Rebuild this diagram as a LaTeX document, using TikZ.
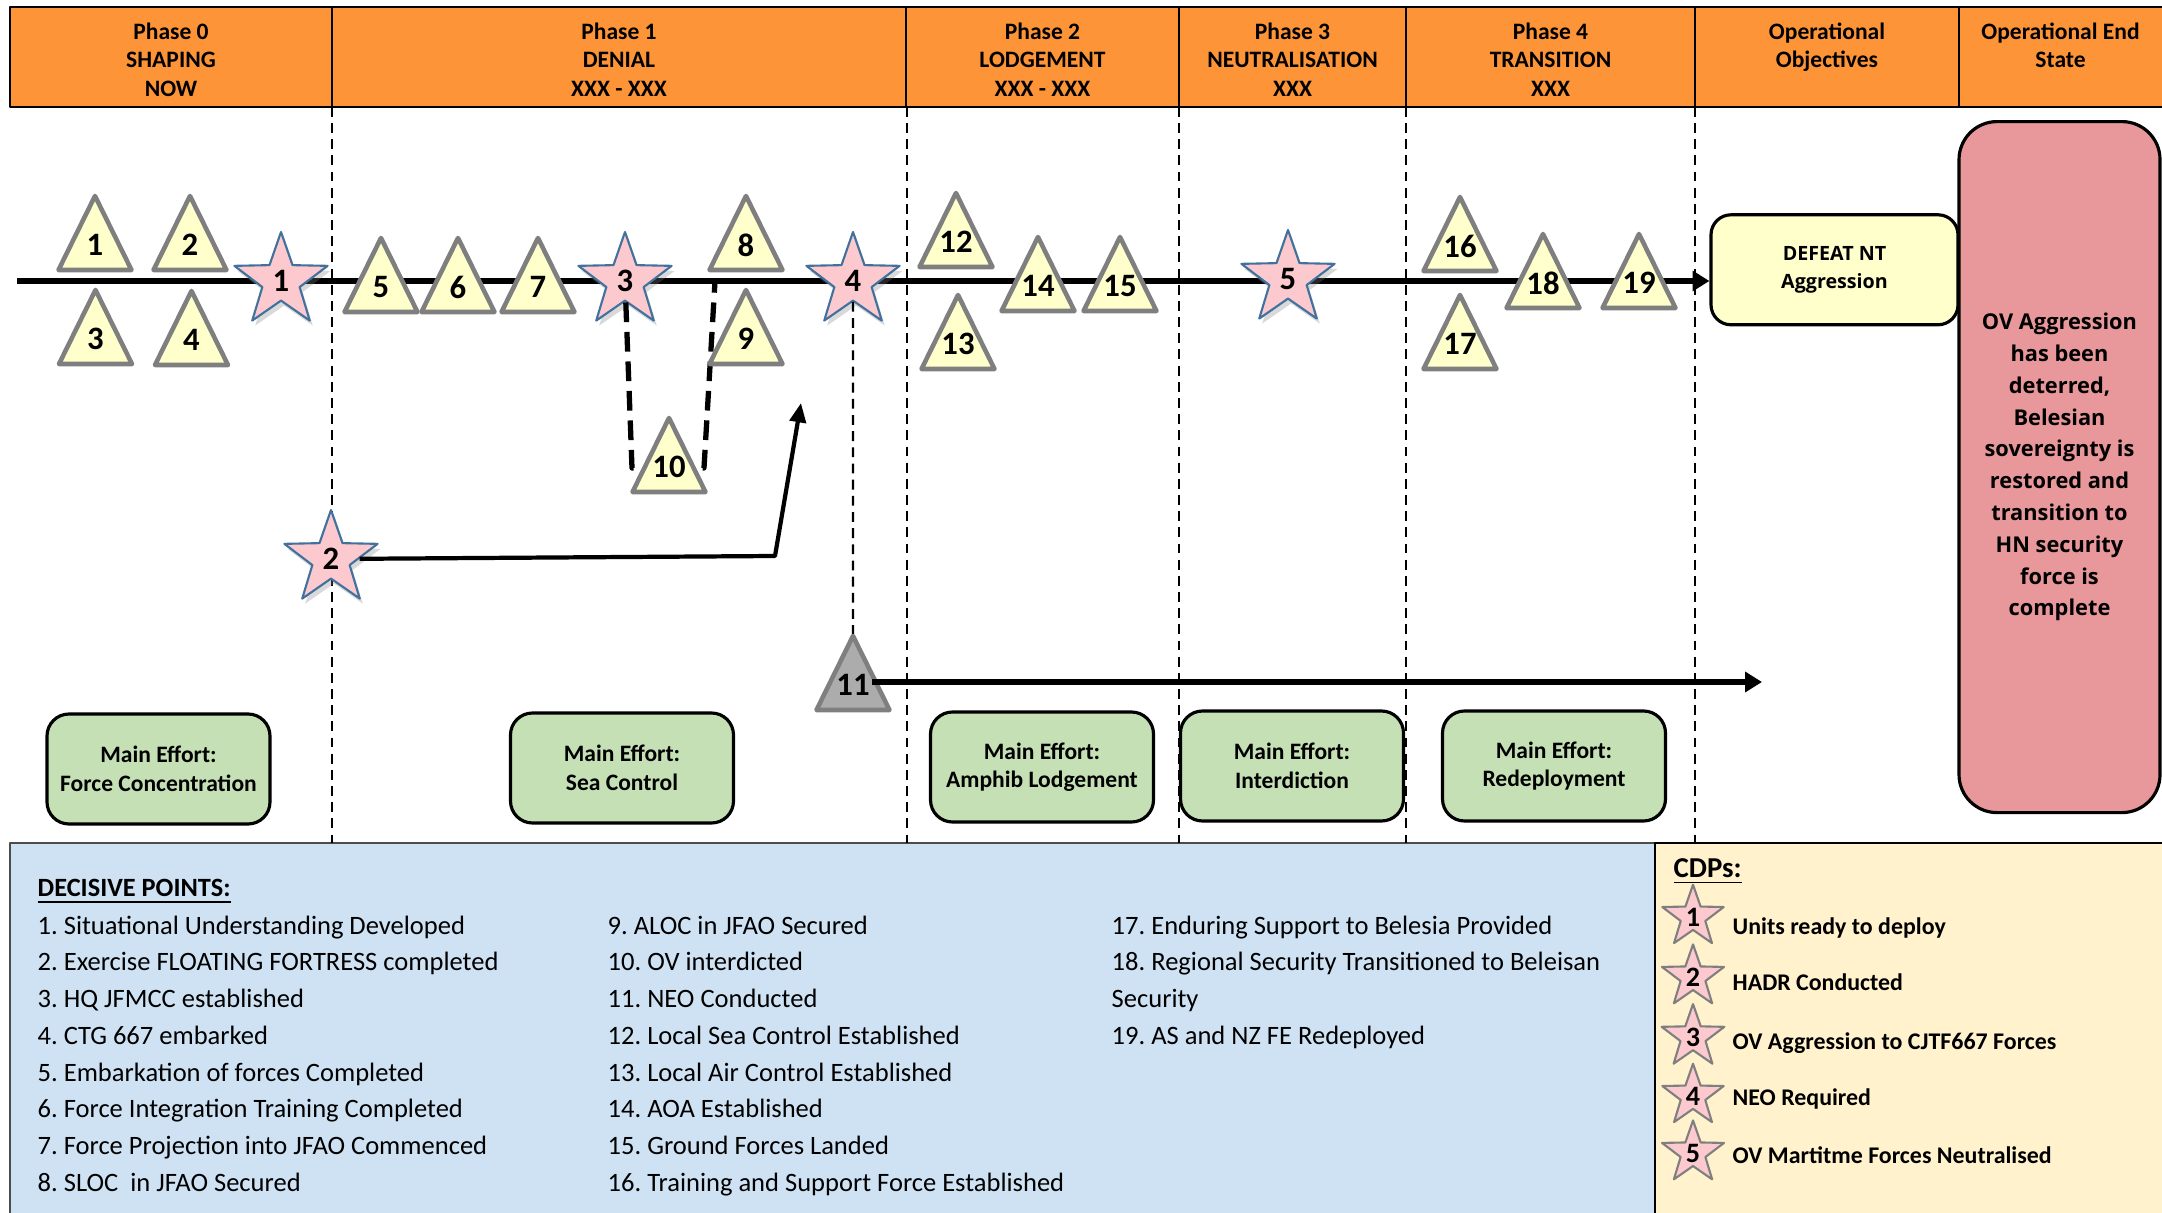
\documentclass[tikz,border=0pt]{standalone}
\usepackage{fontspec}
\setmainfont{Carlito}
\newfontfamily\widesans{Open Sans}
\usetikzlibrary{arrows.meta,shapes.geometric,shadows}
\frenchspacing
\definecolor{phaseorange}{RGB}{253,148,55}
\definecolor{dpyellow}{RGB}{255,255,204}
\definecolor{dpgrey}{RGB}{127,127,127}
\definecolor{neogrey}{RGB}{172,172,172}
\definecolor{cdppink}{RGB}{252,202,206}
\definecolor{cdpblue}{RGB}{65,113,156}
\definecolor{effortgreen}{RGB}{197,224,180}
\definecolor{endred}{RGB}{232,152,154}
\definecolor{dpblue}{RGB}{207,226,243}
\definecolor{cdpcream}{RGB}{255,242,204}

% decisive point: triangle standing on its base centre #3
\newcommand{\dpoint}[4][dpyellow]{%
  \filldraw[dpedge,fill=#1,shift={(#3)}] (-0.365,0) -- (0,0.74) -- (0.365,0) -- cycle;
  \node[dpnum] (#2) at ([yshift=0.25cm]#3) {#4};}

\begin{document}
\begin{tikzpicture}[line join=round,font=\fontsize{7.55}{10.45}\selectfont,
  hdrcell/.style={draw=black,line width=0.8pt,fill=phaseorange},
  hdrtext/.style={anchor=north,align=center,inner sep=0pt,font=\bfseries\fontsize{6.7}{8.1}\selectfont},
  phaseline/.style={line width=0.6pt,dash pattern=on 2.8pt off 1.8pt},
  objbox/.style={draw=black,line width=0.9pt,rounded corners=0.2cm,align=center,inner sep=0pt},
  effort/.style={objbox,fill=effortgreen,rounded corners=0.22cm,minimum width=2.23cm,minimum height=1.10cm,font=\bfseries\fontsize{6.7}{8.1}\selectfont},
  dpedge/.style={draw=dpgrey,line width=1.3pt},
  dpnum/.style={inner sep=0.5pt,font=\bfseries\fontsize{9.3}{10}\selectfont},
  cdpstar/.style={star,star points=5,star point ratio=2.5,inner sep=0pt,fill=cdppink},
  cdp/.style={cdpstar,minimum size=0.98cm,draw=cdpblue,line width=0.6pt,font=\bfseries\fontsize{9.3}{10}\selectfont,
    drop shadow={shadow xshift=0.03cm,shadow yshift=-0.05cm,opacity=0.3}},
  cdpkey/.style={cdpstar,minimum size=0.64cm,draw=dpgrey,line width=0.6pt,font=\bfseries\fontsize{8}{9}\selectfont},
  timeline/.style={line width=1.6pt,-{Triangle[length=4.8pt,width=5.6pt]}},
  flow/.style={line width=1.2pt,-{Triangle[length=5.5pt,width=4.6pt]}},
  sortie/.style={line width=1.5pt,dash pattern=on 5.6pt off 2.8pt},
  dplist/.style={anchor=north west,align=left,inner sep=0pt},
  cdptext/.style={anchor=base west,inner sep=0pt,font=\bfseries\fontsize{6.8}{8}\selectfont}]
  \useasboundingbox (0,0) rectangle (21.62,12.12);

  % key panels
  \filldraw[draw=black!70,line width=0.8pt,fill=dpblue] (0.10,-0.5) rectangle (16.55,3.69);
  \filldraw[draw=black,line width=0.8pt,fill=cdpcream] (16.55,-0.5) rectangle (21.9,3.69);

  % phase header
  \filldraw[hdrcell] (0.10,11.05) rectangle (3.32,12.05);
  \filldraw[hdrcell] (3.32,11.05) rectangle (9.06,12.05);
  \filldraw[hdrcell] (9.06,11.05) rectangle (11.79,12.05);
  \filldraw[hdrcell] (11.79,11.05) rectangle (14.06,12.05);
  \filldraw[hdrcell] (14.06,11.05) rectangle (16.95,12.05);
  \filldraw[hdrcell] (16.95,11.05) rectangle (19.59,12.05);
  \filldraw[hdrcell] (19.59,11.05) rectangle (21.9,12.05);
  \node[hdrtext] (h0) at (1.71,11.90) {Phase 0\\SHAPING\\NOW};
  \node[hdrtext] (h1) at (6.19,11.90) {Phase 1\\DENIAL\\XXX - XXX};
  \node[hdrtext] (h2) at (10.425,11.90) {Phase 2\\LODGEMENT\\XXX - XXX};
  \node[hdrtext] (h3) at (12.925,11.90) {Phase 3\\NEUTRALISATION\\XXX};
  \node[hdrtext] (h4) at (15.505,11.90) {Phase 4\\TRANSITION\\XXX};
  \node[hdrtext] (h5) at (18.27,11.90) {Operational\\Objectives};
  \node[hdrtext] (h6) at (20.605,11.90) {Operational End\\State};

  \foreach \x in {3.32,9.07,11.79,14.06,16.95}
    \draw[phaseline] (\x,11.05) -- (\x,3.69);

  % objective, end state, main efforts
  \node[objbox,fill=dpyellow,minimum width=2.47cm,minimum height=1.10cm,
    font=\widesans\bfseries\fontsize{5.6}{7.8}\selectfont] (obj) at (18.345,9.422) {DEFEAT NT\\Aggression};
  \node[objbox,fill=endred,rounded corners=0.38cm,minimum width=2.01cm,minimum height=6.91cm,
    font=\widesans\bfseries\fontsize{6.2}{9.05}\selectfont] (end) at (20.595,7.449)
    {OV Aggression\\has been\\deterred,\\Belesian\\sovereignty is\\restored and\\transition to\\HN security\\force is\\complete};
  \node[effort] (me0) at (1.585,4.43) {Main Effort:\\Force Concentration};
  \node[effort] (me1) at (6.22,4.44) {Main Effort:\\Sea Control};
  \node[effort] (me2) at (10.42,4.45) {Main Effort:\\Amphib Lodgement};
  \node[effort] (me3) at (12.92,4.46) {Main Effort:\\Interdiction};
  \node[effort] (me4) at (15.54,4.46) {Main Effort:\\Redeployment};

  % line of operation
  \coordinate (tl0) at (0.17,9.31);
  \draw[timeline] (tl0) -- (tl0 -| obj.west);

  \node[cdp] (s1) at (2.81,9.31) {1};
  \node[cdp] (s2) at (3.31,6.53) {2};
  \node[cdp] (s3) at (6.25,9.31) {3};
  \node[cdp] (s4) at (8.53,9.31) {4};
  \node[cdp] (s5) at (12.88,9.33) {5};

  \coordinate (u1) at (6.32,7.44);
  \coordinate (u2) at (7.04,7.44);
  \coordinate (u3) at (7.15,9.31);
  \draw[sortie] (s3) -- (u1) -- (u2) -- (u3);
  \coordinate (b2) at (7.75,6.56);
  \coordinate (t2) at (8.01,8.09);
  \draw[flow] (s2) -- (b2) -- (t2);
  \coordinate (a11) at (8.53,5.76);
  \draw[phaseline] (s4) -- (a11);

  \dpoint{dp1}{0.95,9.42}{1}
  \dpoint{dp2}{1.90,9.42}{2}
  \dpoint{dp3}{0.955,8.48}{3}
  \dpoint{dp4}{1.915,8.47}{4}
  \dpoint{dp5}{3.81,9.00}{5}
  \dpoint{dp6}{4.58,9.00}{6}
  \dpoint{dp7}{5.38,9.00}{7}
  \dpoint{dp8}{7.46,9.42}{8}
  \dpoint{dp9}{7.46,8.48}{9}
  \dpoint{dp10}{6.69,7.20}{10}
  \dpoint[neogrey]{dp11}{8.53,5.02}{11}
  \dpoint{dp12}{9.56,9.45}{12}
  \dpoint{dp13}{9.58,8.43}{13}
  \dpoint{dp14}{10.38,9.01}{14}
  \dpoint{dp15}{11.20,9.01}{15}
  \dpoint{dp16}{14.60,9.41}{16}
  \dpoint{dp17}{14.60,8.43}{17}
  \dpoint{dp18}{15.43,9.04}{18}
  \dpoint{dp19}{16.39,9.04}{19}

  \coordinate (neo) at (17.62,5.30);
  \draw[timeline] (dp11.east |- neo) -- (neo);

  % decisive points key
  \node[anchor=base west,inner sep=0pt,font=\bfseries\fontsize{7.5}{10.45}\selectfont] (dph) at (0.37,3.153) {\underline{DECISIVE POINTS:}};
  \node[dplist] (dpa) at (0.37,2.97) {1. Situational Understanding Developed\\2. Exercise FLOATING FORTRESS completed\\3. HQ JFMCC established\\4. CTG 667 embarked\\5. Embarkation of forces Completed\\6. Force Integration Training Completed\\7. Force Projection into JFAO Commenced\\8. SLOC\ \ in JFAO Secured};
  \node[dplist] (dpb) at (6.07,2.97) {9. ALOC in JFAO Secured\\10. OV interdicted\\11. NEO Conducted\\12. Local Sea Control Established\\13. Local Air Control Established\\14. AOA Established\\15. Ground Forces Landed\\16. Training and Support Force Established};
  \node[dplist] (dpc) at (11.11,2.97) {17. Enduring Support to Belesia Provided\\18. Regional Security Transitioned to Beleisan\\Security\\19. AS and NZ FE Redeployed};

  % critical decisive points key
  \node[anchor=base west,inner sep=0pt,font=\bfseries\fontsize{8.2}{10}\selectfont] (cdph) at (16.73,3.345) {\underline{CDPs:}};
  \node[cdpkey] (k1) at (16.93,2.95) {1};
  \node[cdpkey] (k2) at (16.93,2.35) {2};
  \node[cdpkey] (k3) at (16.93,1.75) {3};
  \node[cdpkey] (k4) at (16.93,1.16) {4};
  \node[cdpkey] (k5) at (16.93,0.59) {5};
  \node[cdptext] (l1) at (17.32,2.78) {Units ready to deploy};
  \node[cdptext] (l2) at (17.32,2.21) {HADR Conducted};
  \node[cdptext] (l3) at (17.32,1.63) {OV Aggression to CJTF667 Forces};
  \node[cdptext] (l4) at (17.32,1.07) {NEO Required};
  \node[cdptext] (l5) at (17.32,0.49) {OV Martitme Forces Neutralised};
\end{tikzpicture}
\end{document}
